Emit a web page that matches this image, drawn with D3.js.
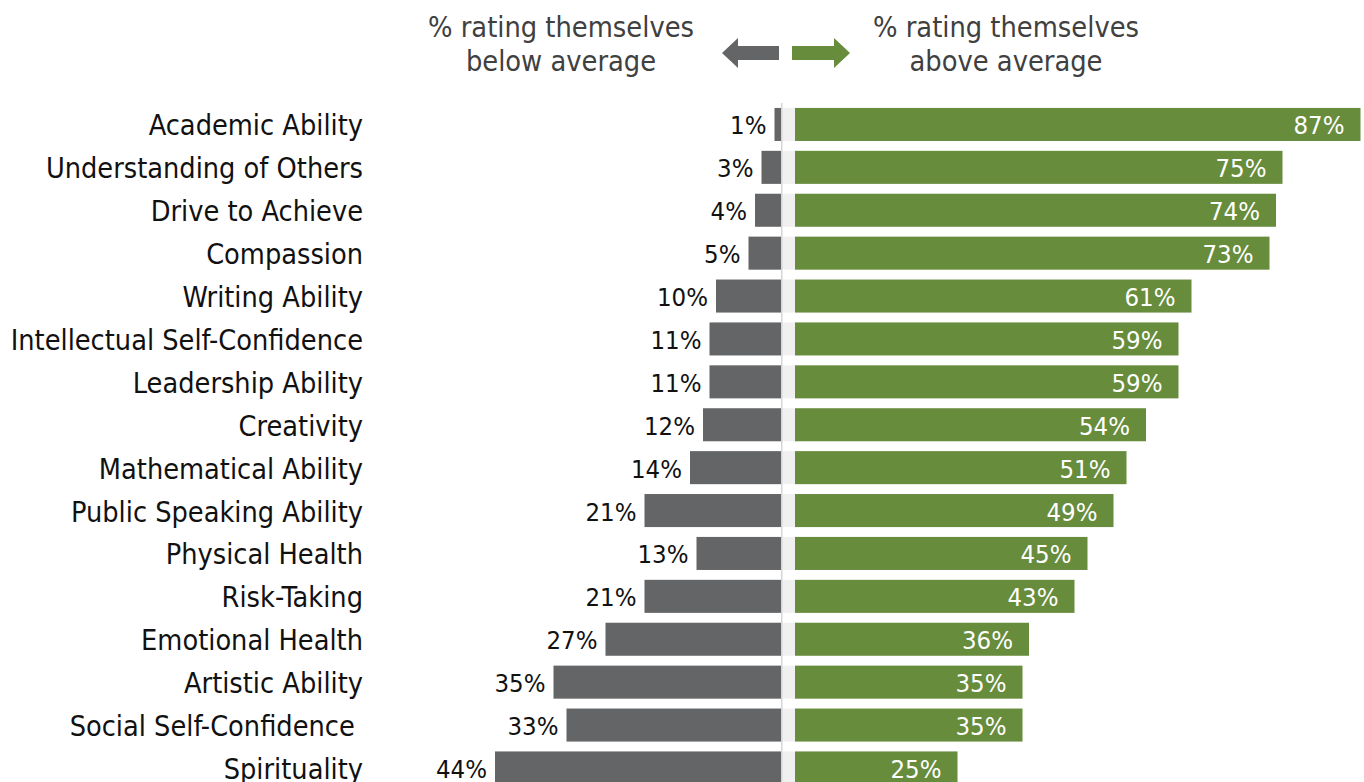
<!DOCTYPE html>
<html>
<head>
<meta charset="utf-8">
<script src="https://cdn.jsdelivr.net/npm/d3@7"></script>
<style>
  html, body { margin: 0; padding: 0; background: #fff; overflow: hidden; }
  svg { display: block; font-family: "DejaVu Sans Condensed", "DejaVu Sans", sans-serif; font-stretch: condensed; }
</style>
</head>
<body>
<svg id="chart" width="1364" height="782"></svg>
<script>
// categories top to bottom
const categories = ["Academic Ability", "Understanding of Others", "Drive to Achieve", "Compassion",
    "Writing Ability", "Intellectual Self-Confidence", "Leadership Ability", "Creativity",
    "Mathematical Ability", "Public Speaking Ability", "Physical Health", "Risk-Taking",
    "Emotional Health", "Artistic Ability", "Social Self-Confidence ", "Spirituality"];
const belowAverage = [1, 3, 4, 5, 10, 11, 11, 12, 14, 21, 13, 21, 27, 35, 33, 44];
const aboveAverage = [87, 75, 74, 73, 61, 59, 59, 54, 51, 49, 45, 43, 36, 35, 35, 25];
const headerLeft = ["% rating themselves", "below average"];
const headerRight = ["% rating themselves", "above average"];

const grey = "#646567";
const green = "#678c3c";

const svg = d3.select("#chart");
const layout = { midX: 781, rightX: 795, pxPerPct: 6.5, top: 103, rowH: 42.9, labelX: 363 };

let y = d3.scaleBand()
    .domain(categories)
    .range([layout.top, layout.top + layout.rowH * categories.length])
    .paddingInner(0.23)
    .paddingOuter(0.115);
let xLeft = d3.scaleLinear().domain([0, 100]).range([layout.midX, layout.midX - 100 * layout.pxPerPct]);
let xRight = d3.scaleLinear().domain([0, 100]).range([layout.rightX, layout.rightX + 100 * layout.pxPerPct]);

function center(cat) { return y(cat) + y.bandwidth() / 2; }

// header
function header(lines, cx) {
    let t = svg.append("text")
        .attr("text-anchor", "middle")
        .attr("fill", "#404040")
        .style("font-size", "28.7px");
    lines.forEach(function(line, i) {
        t.append("tspan").attr("x", cx).attr("y", 37 + i * 34).text(line);
    });
}
header(headerLeft, 561);
header(headerRight, 1006);

// arrows
function arrow(x0, x1, dir, color) {
    // x0 = tail end, x1 = tip
    let cy = 53, shaft = 7, head = 15, headLen = 16 * dir;
    let pts = [[x0, cy - shaft], [x1 - headLen, cy - shaft], [x1 - headLen, cy - head], [x1, cy],
        [x1 - headLen, cy + head], [x1 - headLen, cy + shaft], [x0, cy + shaft]];
    svg.append("path")
        .attr("d", d3.line()(pts) + "Z")
        .attr("fill", color);
}
arrow(779, 722, -1, grey);
arrow(792, 850, 1, green);

// light gap strip between the two halves
svg.append("g").selectAll("rect").data(categories).enter()
    .append("rect")
    .attr("x", layout.midX)
    .attr("y", function(d) { return y(d); })
    .attr("width", layout.rightX - layout.midX)
    .attr("height", y.bandwidth())
    .attr("fill", "#f0f0f0");

// left bars
svg.append("g").selectAll("rect").data(belowAverage).enter()
    .append("rect")
    .attr("x", function(d) { return xLeft(d); })
    .attr("y", function(d, i) { return y(categories[i]); })
    .attr("width", function(d) { return xLeft(0) - xLeft(d); })
    .attr("height", y.bandwidth())
    .attr("fill", grey);

// right bars
svg.append("g").selectAll("rect").data(aboveAverage).enter()
    .append("rect")
    .attr("x", xRight(0))
    .attr("y", function(d, i) { return y(categories[i]); })
    .attr("width", function(d) { return xRight(d) - xRight(0); })
    .attr("height", y.bandwidth())
    .attr("fill", green);

// centre line
svg.append("line")
    .attr("x1", layout.midX + 0.75).attr("x2", layout.midX + 0.75)
    .attr("y1", layout.top).attr("y2", 782)
    .attr("stroke", "#d6d6d6")
    .attr("stroke-width", 1.5);

// category labels
svg.append("g").selectAll("text").data(categories).enter()
    .append("text")
    .attr("x", layout.labelX)
    .attr("y", function(d) { return center(d) + 11; })
    .attr("text-anchor", "end")
    .attr("fill", "#111")
    .style("font-size", "28.6px")
    .style("white-space", "pre")
    .text(function(d) { return d; });

// value labels
svg.append("g").selectAll("text").data(belowAverage).enter()
    .append("text")
    .attr("x", function(d) { return xLeft(d) - 8; })
    .attr("y", function(d, i) { return center(categories[i]) + 10; })
    .attr("text-anchor", "end")
    .attr("fill", "#111")
    .style("font-size", "25.5px")
    .text(function(d) { return d + "%"; });

svg.append("g").selectAll("text").data(aboveAverage).enter()
    .append("text")
    .attr("x", function(d) { return xRight(d) - 16; })
    .attr("y", function(d, i) { return center(categories[i]) + 10; })
    .attr("text-anchor", "end")
    .attr("fill", "#fff")
    .style("font-size", "25.5px")
    .text(function(d) { return d + "%"; });
</script>
</body>
</html>
